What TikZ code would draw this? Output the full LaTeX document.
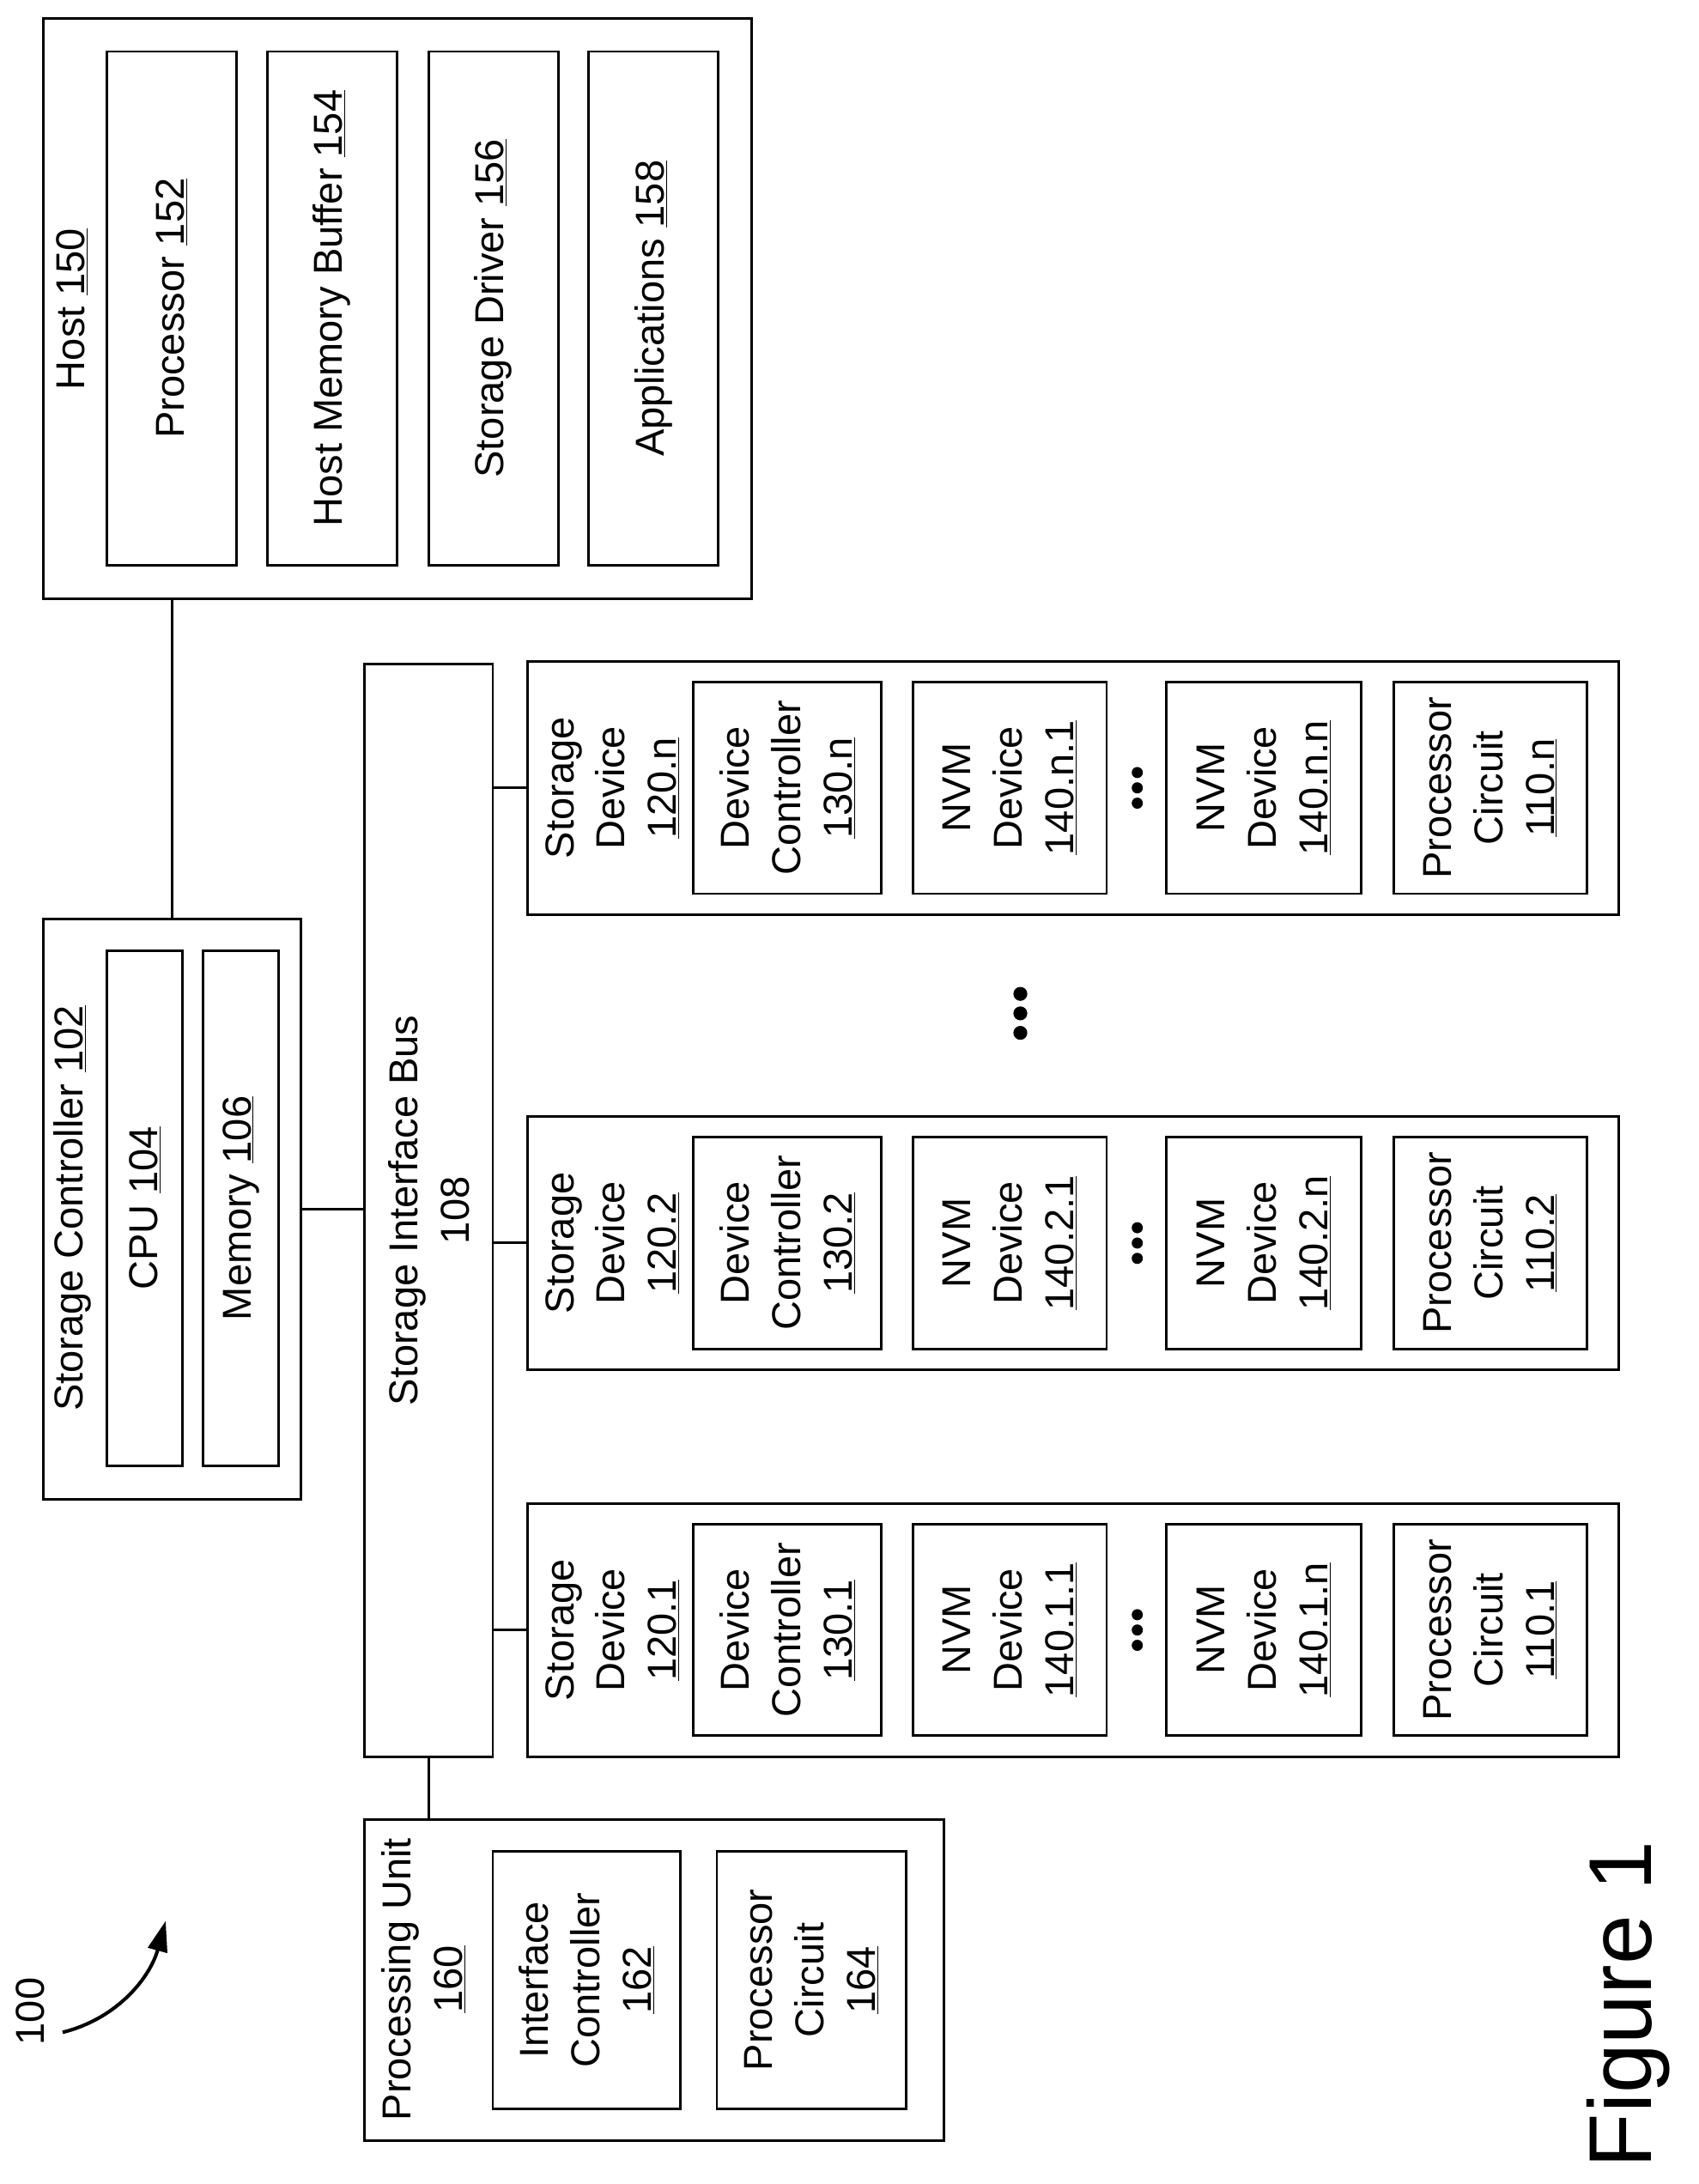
\documentclass[tikz,border=0pt]{standalone}
\usepackage{fontspec}
\setmainfont{Liberation Sans}
\usetikzlibrary{arrows.meta}
\begin{document}
\begin{tikzpicture}[x=1pt,y=-1pt,
  box/.style={draw,line width=1.8pt,inner sep=0pt},
  lbl/.style={rotate=90,align=center,font=\fontsize{29}{37}\selectfont,inner sep=0pt},
  dot/.style={fill=black,circle,inner sep=0pt,minimum size=8pt}]
\useasboundingbox (0,0) rectangle (1220,1569);
\newcommand\B[5]{\node[box,minimum width={(#4)-(#2)},minimum height={(#5)-(#3)}] (#1) at ({((#2)+(#4))/2},{((#3)+(#5))/2}) {};}
% Host
\B{host}{31}{13}{540}{430}
\node[lbl] at (52,222) {Host \underline{150}};
\B{proc}{77}{37}{170}{406}\node[lbl] at (proc) {Processor \underline{152}};
\B{hmb}{192}{37}{285}{406}\node[lbl] at (hmb) {Host Memory Buffer \underline{154}};
\B{drv}{308}{37}{401}{406}\node[lbl] at (drv) {Storage Driver \underline{156}};
\B{app}{423}{37}{516}{406}\node[lbl] at (app) {Applications \underline{158}};
% Storage controller
\B{sc}{31}{660}{216}{1077}
\node[lbl] at (52,868) {Storage Controller \underline{102}};
\B{cpu}{77}{683}{131}{1053}\node[lbl] at (cpu) {CPU \underline{104}};
\B{mem}{146}{683}{200}{1053}\node[lbl] at (mem) {Memory \underline{106}};
% Bus
\B{bus}{262}{477}{354}{1262}
\node[lbl] at (bus) {Storage Interface Bus\\108};
% Storage devices
\foreach \t/\s/\nm in {475/n/n.n, 802/2/2.n, 1080/1/1.n}{
  \B{sd\s}{379}{\t}{1163}{\t+182}
  \node[lbl] at (440,\t+91) {Storage\\Device\\\underline{120.\s}};
  \B{dc\s}{498}{\t+15}{633}{\t+167}\node[lbl] at (dc\s) {Device\\Controller\\\underline{130.\s}};
  \B{nva\s}{656}{\t+15}{795}{\t+167}\node[lbl] at (nva\s) {NVM\\Device\\\underline{140.\s.1}};
  \B{nvb\s}{838}{\t+15}{978}{\t+167}\node[lbl] at (nvb\s) {NVM\\Device\\\underline{140.\nm}};
  \B{pc\s}{1001}{\t+15}{1140}{\t+167}\node[lbl] at (pc\s) {Processor\\Circuit\\\underline{110.\s}};
  \node[dot] at (817,\t+80) {};\node[dot] at (817,\t+91) {};\node[dot] at (817,\t+102) {};
  \draw[line width=1.8pt] (bus.east |- sd\s.west) -- (sd\s.west);
}
\node[dot,minimum size=10pt] at (733,714) {};
\node[dot,minimum size=10pt] at (733,728) {};
\node[dot,minimum size=10pt] at (733,742) {};
% Processing unit
\B{pu}{262}{1307}{678}{1538}
\node[lbl] at (304,1422) {Processing Unit\\\underline{160}};
\B{ic}{354}{1330}{489}{1515}\node[lbl] at (ic) {Interface\\Controller\\\underline{162}};
\B{pc}{515}{1330}{651}{1515}\node[lbl] at (pc) {Processor\\Circuit\\\underline{164}};
% connectors
\draw[line width=1.8pt] (proc.center |- host.south) -- (proc.center |- sc.north);
\draw[line width=1.8pt] (sc.east) -- (sc.east -| bus.west);
\draw[line width=1.8pt] (bus.south) -- (bus.south |- pu.north);
% 100 and figure
\node[lbl] (ref) at (22,1445) {100};
\coordinate (a0) at (45,1460);
\coordinate (a1) at (119,1380);
\draw[line width=2.5pt,-{Triangle[length=22pt,width=14pt]}] (a0) .. controls (85,1450) and (108,1420) .. (a1);
\node[rotate=90,font=\fontsize{64}{70}\selectfont,inner sep=0pt] (fig) at (1170,1440) {Figure 1};
\end{tikzpicture}
\end{document}
